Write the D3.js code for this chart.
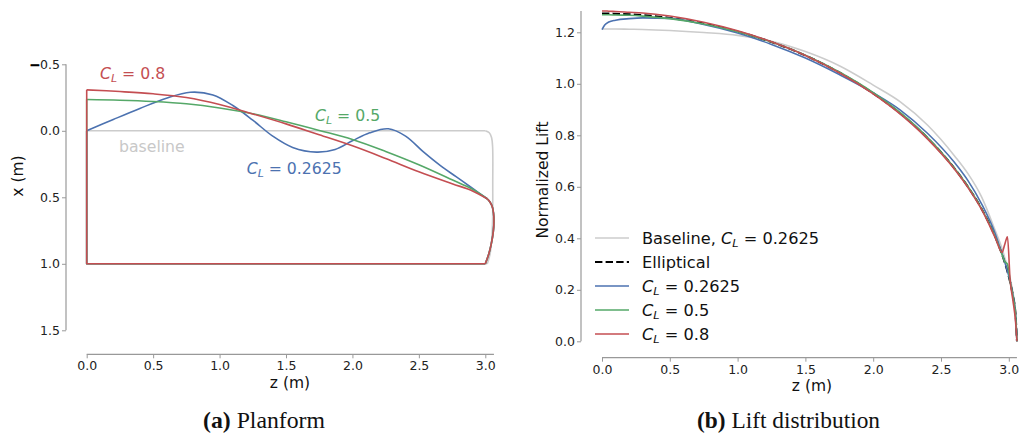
<!DOCTYPE html>
<html>
<head>
<meta charset="utf-8">
<script src="https://cdn.jsdelivr.net/npm/d3@7"></script>
<style>
  body { margin: 0; background: #fff; }
  svg { display: block; font-family: "DejaVu Sans", sans-serif; }
</style>
</head>
<body>
<svg id="chart" width="1021" height="438"></svg>
<script>
// ---------- Planform (z along span, x along chord, metres) ----------
// Leading edge of the C_L = 0.2625 design (wavy)
const leZ_cl02625 = [0, 0.2, 0.4, 0.6, 0.78, 0.95, 1.1, 1.25, 1.4, 1.55, 1.73, 1.87, 2.0, 2.13, 2.27, 2.4, 2.53, 2.66, 2.78, 2.9, 3.014];
const leX_cl02625 = [0.0, -0.085, -0.168, -0.245, -0.29, -0.27, -0.19, -0.08, 0.04, 0.125, 0.16, 0.14, 0.075, 0.015, -0.015, 0.04, 0.155, 0.26, 0.345, 0.43, 0.511];
// Leading edges of the C_L = 0.5 and C_L = 0.8 designs
const leZ = [0, 0.25, 0.5, 0.75, 1.0, 1.25, 1.5, 1.75, 2.0, 2.25, 2.5, 2.75, 2.9, 3.014];
const leX_cl05 = [-0.235, -0.23, -0.22, -0.203, -0.172, -0.128, -0.068, -0.003, 0.065, 0.155, 0.255, 0.368, 0.438, 0.511];
const leX_cl08 = [-0.308, -0.295, -0.278, -0.25, -0.198, -0.127, -0.052, 0.03, 0.113, 0.208, 0.308, 0.398, 0.45, 0.511];
// Shared rounded tip of the optimised planforms
const tipZ = [3.014, 3.035, 3.052, 3.062, 3.065, 3.06, 3.045, 3.025, 3.0];
const tipX = [0.511, 0.535, 0.57, 0.62, 0.68, 0.76, 0.85, 0.93, 1.0];
// Baseline rectangular wing with rounded tip
const baseLeZ = [0, 3.0];
const baseLeX = [0, 0];
const baseTipZ = [3.0, 3.03, 3.047, 3.055, 3.056, 3.055, 3.048, 3.035, 3.015];
const baseTipX = [0, 0.015, 0.05, 0.12, 0.4, 0.67, 0.82, 0.93, 1.0];
const trailingX = 1.0;

const planZTicks = [0, 0.5, 1.0, 1.5, 2.0, 2.5, 3.0];
const planXTicks = [-0.5, 0, 0.5, 1.0, 1.5];

// ---------- Lift distribution ----------
const liftZ = [0, 0.02, 0.05, 0.1, 0.2, 0.3, 0.5, 0.75, 1.0, 1.25, 1.5, 1.75, 2.0, 2.2, 2.4, 2.6, 2.7, 2.8, 2.9, 2.95, 2.97, 2.99, 3.01, 3.03, 3.05, 3.06];
const liftBaseline   = [1.213, 1.213, 1.213, 1.213, 1.212, 1.211, 1.207, 1.199, 1.188, 1.165, 1.125, 1.07, 0.995, 0.93, 0.84, 0.72, 0.65, 0.56, 0.43, 0.36, 0.325, 0.29, 0.245, 0.19, 0.11, 0.0];
const liftElliptical = [1.273, 1.273, 1.273, 1.272, 1.270, 1.267, 1.256, 1.234, 1.203, 1.162, 1.110, 1.044, 0.963, 0.885, 0.790, 0.671, 0.599, 0.514, 0.406, 0.338, 0.306, 0.271, 0.229, 0.178, 0.103, 0.0];
const liftCl02625    = [1.210, 1.228, 1.240, 1.247, 1.253, 1.256, 1.254, 1.230, 1.197, 1.153, 1.100, 1.036, 0.965, 0.898, 0.808, 0.694, 0.623, 0.533, 0.418, 0.340, 0.308, 0.272, 0.232, 0.18, 0.105, 0.0];
const liftCl05       = [1.268, 1.268, 1.268, 1.267, 1.266, 1.263, 1.253, 1.232, 1.202, 1.162, 1.111, 1.046, 0.966, 0.888, 0.792, 0.672, 0.600, 0.514, 0.405, 0.337, 0.31, 0.30, 0.232, 0.175, 0.10, 0.0];
const liftCl08       = [1.283, 1.283, 1.282, 1.281, 1.278, 1.275, 1.263, 1.239, 1.206, 1.163, 1.110, 1.043, 0.961, 0.882, 0.786, 0.668, 0.596, 0.511, 0.402, 0.345, 0.376, 0.406, 0.236, 0.16, 0.075, 0.0];

const liftZTicks = [0, 0.5, 1.0, 1.5, 2.0, 2.5, 3.0];
const liftTicks = [0, 0.2, 0.4, 0.6, 0.8, 1.0, 1.2];

const legendLabels = ["Baseline, ", "Elliptical", "", "", ""];
const legendValues = ["0.2625", null, "0.2625", "0.5", "0.8"];

// ---------- styling ----------
const colBase = "#cccccc", colBlue = "#4c72b0", colGreen = "#55a868", colRed = "#c44e52";
const spineCol = "#999999", tickTextCol = "#222222";

const svg = d3.select("#chart");
const zip = (a, b) => a.map((v, i) => [v, b[i]]);
const fmt = d3.format(".1f");

// Scales
const zL = d3.scaleLinear().domain([0, 3]).range([86.7, 485.3]);
const xL = d3.scaleLinear().domain([-0.5, 1.5]).range([64.3, 330.3]);
const zR = d3.scaleLinear().domain([0, 3]).range([602, 1008.8]);
const yR = d3.scaleLinear().domain([0, 1.2]).range([341.3, 32.3]);

function styleAxis(g) {
  g.select(".domain").remove();
  g.selectAll(".tick line").attr("stroke", spineCol).attr("stroke-width", 1);
  g.selectAll(".tick text").attr("fill", tickTextCol).attr("font-size", 12.5)
    .style("font-family", "DejaVu Sans");
}
function spine(x1, y1, x2, y2) {
  svg.append("line").attr("x1", x1).attr("y1", y1).attr("x2", x2).attr("y2", y2)
    .attr("stroke", spineCol).attr("stroke-width", 1.2);
}

// Text with an italic C_L term
function clText(parent, x, yc, size, color, prefix, value) {
  const t = parent.append("text").attr("x", x).attr("y", yc + 0.36 * size)
    .attr("font-size", size).attr("fill", color);
  if (prefix) t.append("tspan").text(prefix);
  t.append("tspan").attr("font-style", "italic").text("C");
  t.append("tspan").attr("font-style", "italic").attr("font-size", size * 0.7)
    .attr("dy", size * 0.2).text("L");
  t.append("tspan").attr("dy", -size * 0.2).text("\u00a0=\u00a0" + value);
  return t;
}

// ---------- Left panel: planform ----------
const left = svg.append("g");
const yAxisL = left.append("g").attr("transform", "translate(66,0)")
  .call(d3.axisLeft(xL).tickValues(planXTicks).tickFormat(fmt).tickSize(4).tickPadding(2))
  .call(styleAxis);
// the negative tick's minus sign is drawn heavier
yAxisL.selectAll(".tick text").filter(d => d < 0).each(function (d) {
  const t = d3.select(this);
  t.text(null);
  t.append("tspan").attr("fill", "#000").attr("stroke", "#000").attr("stroke-width", 0.9).text("\u2212");
  t.append("tspan").text(fmt(Math.abs(d)));
});
left.append("g").attr("transform", "translate(0,354.3)")
  .call(d3.axisBottom(zL).tickValues(planZTicks).tickFormat(fmt).tickSize(4).tickPadding(3))
  .call(styleAxis);
spine(66, xL(-0.5), 66, xL(1.5));
spine(zL(0), 354.3, zL(d3.max(tipZ)), 354.3);

const smoothL = d3.line().x(d => zL(d[0])).y(d => xL(d[1])).curve(d3.curveCatmullRom.alpha(0.5));
const straightL = d3.line().x(d => zL(d[0])).y(d => xL(d[1]));

function drawPlanform(g, le, tip, color) {
  const last = tip[tip.length - 1];
  g.append("path").attr("d", smoothL(le));
  g.append("path").attr("d", smoothL(tip));
  g.append("path").attr("d", straightL([[last[0], trailingX], [0, trailingX], [0, le[0][1]]]));
  g.attr("fill", "none").attr("stroke", color).attr("stroke-width", 1.6).attr("stroke-linejoin", "round");
}
drawPlanform(left.append("g"), zip(baseLeZ, baseLeX), zip(baseTipZ, baseTipX), colBase);
drawPlanform(left.append("g"), zip(leZ_cl02625, leX_cl02625), zip(tipZ, tipX), colBlue);
drawPlanform(left.append("g"), zip(leZ, leX_cl05), zip(tipZ, tipX), colGreen);
drawPlanform(left.append("g"), zip(leZ, leX_cl08), zip(tipZ, tipX), colRed);

// Annotations
clText(left, zL(0.1), xL(-0.435), 15.7, colRed, "", "0.8");
clText(left, zL(1.718), xL(-0.114), 15.7, colGreen, "", "0.5");
clText(left, zL(1.204), xL(0.282), 15.7, colBlue, "", "0.2625");
left.append("text").attr("x", zL(0.243)).attr("y", xL(0.12) + 5.6).attr("font-size", 15.7)
  .attr("fill", "#c8c8c8").text("baseline");

// Axis titles
left.append("text").attr("transform", "translate(23,176) rotate(-90)").attr("text-anchor", "middle")
  .attr("font-size", 15.5).attr("fill", "#111").text("x (m)");
left.append("text").attr("x", 290).attr("y", 388).attr("text-anchor", "middle")
  .attr("font-size", 15.5).attr("fill", "#111").text("z (m)");

// ---------- Right panel: lift distribution ----------
const right = svg.append("g");
right.append("g").attr("transform", "translate(581,0)")
  .call(d3.axisLeft(yR).tickValues(liftTicks).tickFormat(fmt).tickSize(4).tickPadding(2))
  .call(styleAxis);
right.append("g").attr("transform", "translate(0,357.7)")
  .call(d3.axisBottom(zR).tickValues(liftZTicks).tickFormat(fmt).tickSize(4).tickPadding(3))
  .call(styleAxis);
const liftMax = d3.max([liftBaseline, liftElliptical, liftCl02625, liftCl05, liftCl08].flat());
spine(581, yR(0), 581, yR(liftMax));
spine(zR(0), 357.7, zR(d3.max(liftZ)), 357.7);

const liftLine = d3.line().x(d => zR(d[0])).y(d => yR(d[1])).curve(d3.curveMonotoneX);
const liftSeries = [
  { v: liftBaseline, c: colBase, w: 1.6, dash: null },
  { v: liftElliptical, c: "#000000", w: 2, dash: "7.4,3.2" },
  { v: liftCl02625, c: colBlue, w: 1.6, dash: null },
  { v: liftCl05, c: colGreen, w: 1.6, dash: null },
  { v: liftCl08, c: colRed, w: 1.6, dash: null }
];
liftSeries.forEach(s => {
  right.append("path").attr("d", liftLine(zip(liftZ, s.v))).attr("fill", "none")
    .attr("stroke", s.c).attr("stroke-width", s.w).attr("stroke-dasharray", s.dash)
    .attr("stroke-linejoin", "round");
});

// Legend
const legY = [238, 262, 286, 310, 334];
liftSeries.forEach((s, i) => {
  right.append("line").attr("x1", 595).attr("x2", 629).attr("y1", legY[i]).attr("y2", legY[i])
    .attr("stroke", s.c).attr("stroke-width", s.w).attr("stroke-dasharray", s.dash);
  if (legendValues[i] === null) {
    right.append("text").attr("x", 642).attr("y", legY[i] + 5.8).attr("font-size", 16.2)
      .attr("fill", "#111").text(legendLabels[i]);
  } else {
    clText(right, 642, legY[i], 16.2, "#111", legendLabels[i], legendValues[i]);
  }
});

right.append("text").attr("transform", "translate(548,180) rotate(-90)").attr("text-anchor", "middle")
  .attr("font-size", 15.5).attr("fill", "#111").text("Normalized Lift");
right.append("text").attr("x", 812).attr("y", 391).attr("text-anchor", "middle")
  .attr("font-size", 15.5).attr("fill", "#111").text("z (m)");

// ---------- Sub-figure captions ----------
function caption(cx, width, tag, body) {
  const t = svg.append("text").attr("x", cx).attr("y", 428).attr("text-anchor", "middle")
    .style("font-family", "'Liberation Serif', serif").attr("font-size", 20).attr("fill", "#111");
  t.append("tspan").attr("font-weight", "bold").text(tag);
  t.append("tspan").text(" " + body);
  const w = t.node().getComputedTextLength();
  t.attr("font-size", 20 * width / w);
}
caption(264, 122, "(a)", "Planform");
caption(788.5, 183, "(b)", "Lift distribution");
</script>
</body>
</html>
